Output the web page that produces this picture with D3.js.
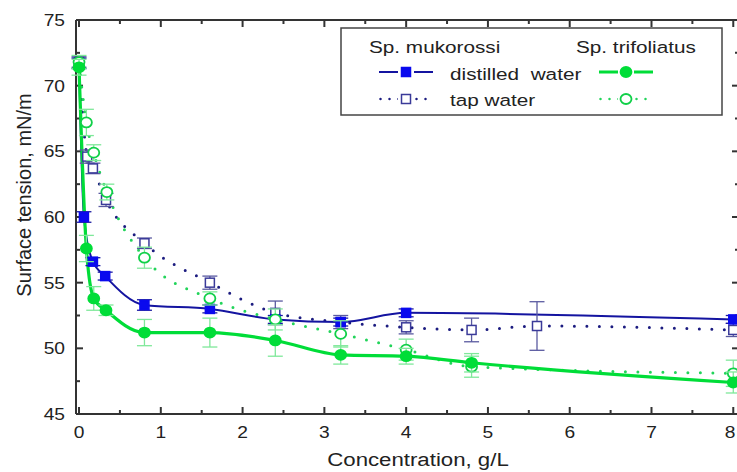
<!DOCTYPE html>
<html>
<head>
<meta charset="utf-8">
<script src="https://d3js.org/d3.v7.min.js"></script>
<style>
  body { margin: 0; background: #fff; }
  svg { display: block; font-family: "Liberation Sans", Arial, sans-serif; }
</style>
</head>
<body>
<div id="chart"></div>
<script>
// Surface tension vs concentration, two saponin sources in two waters

const xTicks = [0, 1, 2, 3, 4, 5, 6, 7, 8];
const yTicks = [45, 50, 55, 60, 65, 70, 75];

// Sp. mukorossi, distilled water
const muDistC = [0, 0.06, 0.17, 0.32, 0.8, 1.6, 2.4, 3.2, 4.0, 8.0];
const muDistV = [71.7, 60.0, 56.6, 55.5, 53.3, 53.0, 52.2, 52.0, 52.7, 52.2];
const muDistE = [0.4, 0.4, 0.3, 0.3, 0.4, 0.3, 0.3, 0.3, 0.3, 0.3];

// Sp. mukorossi, tap water
const muTapC = [0, 0.1, 0.17, 0.33, 0.8, 1.6, 2.4, 3.2, 4.0, 4.8, 5.6, 8.0];
const muTapV = [71.8, 64.6, 63.7, 61.3, 58.0, 55.0, 52.7, 52.0, 51.6, 51.4, 51.7, 51.4];
const muTapE = [0.4, 0.5, 0.4, 0.5, 0.4, 0.5, 0.9, 0.5, 0.5, 0.9, 1.85, 0.5];

// Sp. trifoliatus, distilled water
const trDistC = [0, 0.09, 0.18, 0.33, 0.8, 1.6, 2.4, 3.2, 4.0, 4.8, 8.0];
const trDistV = [71.4, 57.6, 53.8, 52.9, 51.2, 51.2, 50.6, 49.5, 49.4, 48.9, 47.4];
const trDistE = [0.6, 1.0, 0.9, 0.4, 1.0, 1.1, 1.2, 0.7, 0.6, 0.7, 0.8];

// Sp. trifoliatus, tap water
const trTapC = [0, 0.09, 0.18, 0.34, 0.8, 1.6, 2.4, 3.2, 4.0, 4.8, 8.0];
const trTapV = [71.8, 67.2, 64.9, 61.9, 56.9, 53.8, 52.2, 51.1, 49.9, 48.6, 48.1];
const trTapE = [0.5, 1.0, 0.6, 0.6, 0.8, 0.5, 0.8, 1.0, 0.8, 0.8, 1.0];

const W = 737, H = 472;
const plotL = 76, plotR = 739, plotT = 20, plotB = 414;
const axisColor = "#333";
const stretch = 1.2; // the source image is a bit wider than tall

const svg = d3.select("#chart").append("svg")
  .attr("width", W).attr("height", H);

const x = d3.scaleLinear().domain([-0.037, 8.07]).range([plotL, plotR]);
const y = d3.scaleLinear().domain([45, 75]).range([plotB, plotT]);

function hText(g, str, px, py, size, anchor, sx) {
  return g.append("text")
    .attr("transform", `translate(${px},${py}) scale(${sx || stretch},1)`)
    .attr("text-anchor", anchor || "start")
    .attr("font-size", size)
    .attr("fill", "#222")
    .style("white-space", "pre")
    .text(str);
}

// frame with inward ticks
const minorX = d3.range(0, 8.01, 0.5);
const minorY = d3.range(45, 75.01, 2.5);
const axes = svg.append("g").attr("stroke", axisColor).attr("stroke-width", 2);

axes.append("line").attr("x1", plotL).attr("x2", plotR).attr("y1", plotB).attr("y2", plotB);
axes.append("line").attr("x1", plotL).attr("x2", plotR).attr("y1", plotT).attr("y2", plotT);
axes.append("line").attr("x1", plotL).attr("x2", plotL).attr("y1", plotT).attr("y2", plotB);
axes.append("line").attr("x1", plotR).attr("x2", plotR).attr("y1", plotT).attr("y2", plotB);

minorX.forEach(v => {
  const len = Number.isInteger(v) ? 7 : 4;
  axes.append("line").attr("x1", x(v)).attr("x2", x(v)).attr("y1", plotB).attr("y2", plotB - len);
  axes.append("line").attr("x1", x(v)).attr("x2", x(v)).attr("y1", plotT).attr("y2", plotT + len);
});
minorY.forEach(v => {
  const len = v % 5 === 0 ? 7 : 4;
  axes.append("line").attr("x1", plotL).attr("x2", plotL + len).attr("y1", y(v)).attr("y2", y(v));
  axes.append("line").attr("x1", plotR).attr("x2", plotR - len).attr("y1", y(v)).attr("y2", y(v));
});

const labels = svg.append("g");
// the last label sits against the image edge, nudge it in so it stays whole
xTicks.forEach(v => hText(labels, String(v), Math.min(x(v), W - 7), 438, 16, "middle"));
yTicks.forEach(v => hText(labels, String(v), 65, y(v) + 6, 16, "end"));

hText(labels, "Concentration, g/L", 418, 466, 19, "middle", 1.17);
labels.append("text")
  .attr("transform", "translate(31,195) rotate(-90)")
  .attr("text-anchor", "middle")
  .attr("font-size", 20)
  .attr("fill", "#222")
  .text("Surface tension, mN/m");

// series
const series = [
  { c: muTapC, v: muTapV, e: muTapE, line: "#1c1c80", width: 3, dash: "0 12.5", cap: "round",
    marker: "square", fill: "#fff", stroke: "#3a3a99", err: "#5a5aa0" },
  { c: muDistC, v: muDistV, e: muDistE, line: "#1414a0", width: 2, dash: null, cap: "butt",
    marker: "square", fill: "#0a0aee", stroke: "#0a0aee", err: "#1a1aa0" },
  { c: trTapC, v: trTapV, e: trTapE, line: "#22d45a", width: 3, dash: "0 12.5", cap: "round",
    marker: "circle", fill: "#fff", stroke: "#10d048", err: "#7fe89a" },
  { c: trDistC, v: trDistV, e: trDistE, line: "#00dd38", width: 3.2, dash: null, cap: "butt",
    marker: "circle", fill: "#00dd38", stroke: "#00dd38", err: "#7fe89a" }
];

const lineGen = d3.line()
  .x(d => x(d.c)).y(d => y(d.v))
  .curve(d3.curveMonotoneX);

series.forEach(s => {
  s.pts = s.c.map((c, i) => ({ c: c, v: s.v[i], e: s.e[i] }));
});

// lines first
series.forEach(s => {
  svg.append("path")
    .datum(s.pts)
    .attr("d", lineGen)
    .attr("fill", "none")
    .attr("stroke", s.line)
    .attr("stroke-width", s.width)
    .attr("stroke-linecap", s.cap)
    .attr("stroke-dasharray", s.dash);
});

function drawMarker(g, s, px, py) {
  if (s.marker === "square") {
    g.append("rect")
      .attr("x", px - 4.5).attr("y", py - 4.5)
      .attr("width", 9).attr("height", 9)
      .attr("fill", s.fill).attr("stroke", s.stroke).attr("stroke-width", 1.5);
  } else {
    g.append("ellipse")
      .attr("cx", px).attr("cy", py).attr("rx", 5.5).attr("ry", 5)
      .attr("fill", s.fill).attr("stroke", s.stroke).attr("stroke-width", 1.8);
  }
}

series.forEach(s => {
  const g = svg.append("g");
  s.pts.forEach(d => {
    const px = x(d.c);
    g.append("line").attr("x1", px).attr("x2", px)
      .attr("y1", y(d.v - d.e)).attr("y2", y(d.v + d.e))
      .attr("stroke", s.err).attr("stroke-width", 1.3);
    [d.v - d.e, d.v + d.e].forEach(b => {
      g.append("line").attr("x1", px - 7.5).attr("x2", px + 7.5)
        .attr("y1", y(b)).attr("y2", y(b))
        .attr("stroke", s.err).attr("stroke-width", 1.3);
    });
  });
  s.pts.forEach(d => drawMarker(g, s, x(d.c), y(d.v)));
});

// legend
const leg = svg.append("g");
leg.append("rect")
  .attr("x", 341).attr("y", 28).attr("width", 381).attr("height", 87)
  .attr("fill", "#fff").attr("stroke", "#444").attr("stroke-width", 1.5);

hText(leg, "Sp. mukorossi", 369, 53, 17, "start", 1.22);
hText(leg, "Sp. trifoliatus", 576, 53, 17, "start", 1.22);
hText(leg, "distilled  water", 450, 80, 17, "start", 1.22);
hText(leg, "tap water", 450, 106, 17, "start", 1.22);

const legRows = [
  { s: series[1], x0: 379, yy: 72 },
  { s: series[0], x0: 379, yy: 99 },
  { s: series[3], x0: 599, yy: 72 },
  { s: series[2], x0: 599, yy: 99 }
];
legRows.forEach(r => {
  leg.append("line")
    .attr("x1", r.x0 + (r.s.dash ? 1.5 : 0)).attr("x2", r.x0 + 54)
    .attr("y1", r.yy).attr("y2", r.yy)
    .attr("stroke", r.s.line)
    .attr("stroke-width", r.s.dash ? 2.5 : r.s.width)
    .attr("stroke-linecap", r.s.cap)
    .attr("stroke-dasharray", r.s.dash ? "0 9" : null);
  const mx = r.x0 + 27;
  leg.append("rect").attr("x", mx - 8).attr("y", r.yy - 6).attr("width", 16).attr("height", 12).attr("fill", "#fff");
  drawMarker(leg, r.s, mx, r.yy);
});
</script>
</body>
</html>
